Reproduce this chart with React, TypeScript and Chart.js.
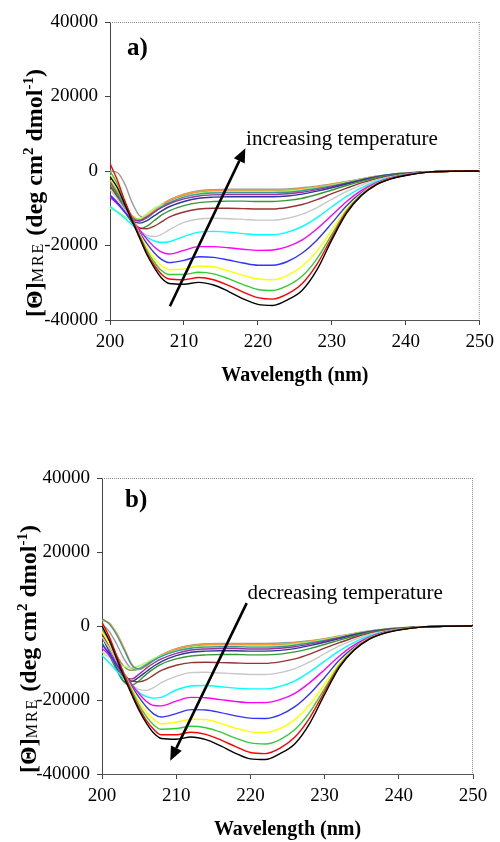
import React, { useEffect, useRef } from 'react';
import { Chart, registerables } from 'chart.js';

Chart.register(...registerables);

const FONT = '"Liberation Serif", "Times New Roman", serif';

// Wavelengths (nm) at which each curve is sampled
const WAVELENGTHS = [200, 201, 202, 203, 204, 205, 206, 207, 208, 210, 212, 214, 216, 218, 220, 222, 224, 226, 228, 230, 232, 234, 236, 238, 240, 243, 246, 250];
const X_TICKS = [200, 210, 220, 230, 240, 250];
const Y_TICKS = [-40000, -20000, 0, 20000, 40000];

const SERIES_COLORS = ['#000000', '#ff0000', '#33cc33', '#ffff00', '#3333ff', '#ff00ff', '#00ffff', '#c8c8c8', '#993333', '#339933', '#333399', '#993399', '#339999', '#99ff66', '#ff9933', '#999999', '#999966'];

// Panel a (heating)
const A_BLACK = [-1500, -4500, -9000, -13500, -18000, -22500, -26000, -28800, -30200, -30400, -29900, -30600, -32300, -34300, -35800, -36100, -34600, -32000, -26500, -18500, -11300, -6600, -3700, -2100, -1200, -300, -50, 0];
const A_RED = [2000, -2500, -8000, -12800, -17500, -22000, -25300, -27800, -29000, -29200, -28600, -29200, -30700, -32500, -34000, -34400, -33000, -30200, -25000, -17800, -11000, -6500, -3600, -2050, -1150, -300, -50, 0];
const A_GREEN = [0, -3500, -8300, -12800, -17200, -21300, -24500, -26800, -27800, -27800, -27200, -27600, -28900, -30500, -31800, -32100, -30800, -28200, -23500, -17000, -10600, -6300, -3500, -2000, -1100, -300, -50, 0];
const A_YELLOW = [-1000, -4500, -8800, -12800, -16800, -20500, -23500, -25500, -26500, -26300, -25500, -25700, -26800, -28000, -29000, -29200, -28000, -25500, -21500, -15800, -10100, -6100, -3400, -1950, -1100, -300, -50, 0];
const A_BLUE = [-6500, -8500, -11000, -13500, -16500, -19500, -22000, -23800, -24600, -24000, -23000, -23200, -23900, -24700, -25300, -25300, -24300, -22000, -18500, -14000, -9300, -5800, -3300, -1900, -1050, -300, -50, 0];
const A_MAGENTA = [-7000, -8800, -11000, -13300, -15800, -18300, -20400, -21800, -22300, -21300, -20300, -20300, -20600, -21000, -21300, -21200, -20300, -18500, -15500, -11900, -8200, -5200, -3100, -1800, -1000, -300, -50, 0];
const A_CYAN = [-9500, -11000, -12700, -14500, -16300, -17800, -18800, -19200, -19000, -17600, -16400, -16200, -16400, -16800, -17100, -17100, -16400, -14900, -12500, -9600, -6800, -4500, -2800, -1700, -950, -250, -50, 0];
const A_LIGHTGRAY = [-5000, -7500, -10500, -13500, -16000, -17300, -17600, -17000, -15800, -13800, -12900, -12700, -12800, -13000, -13200, -13200, -12700, -11600, -9800, -7600, -5500, -3800, -2400, -1500, -900, -250, -50, 0];
const A_BROWN = [-4000, -7000, -10500, -13500, -15300, -15500, -14800, -13600, -12400, -11000, -10200, -10000, -10000, -10100, -10200, -10200, -9800, -9000, -7700, -6100, -4600, -3200, -2100, -1300, -850, -250, -50, 0];
const A_DKGREEN = [-3000, -6500, -10500, -14000, -15500, -14800, -13300, -11800, -10700, -9300, -8500, -8200, -8100, -8100, -8200, -8200, -7900, -7300, -6300, -5100, -3900, -2800, -1800, -1150, -800, -250, -50, 0];
const A_NAVY = [-6500, -8500, -11000, -13300, -14000, -13300, -12000, -10700, -9600, -8200, -7300, -7000, -6900, -6900, -6900, -6900, -6700, -6200, -5400, -4500, -3500, -2500, -1600, -1000, -650, -250, -50, 0];
const A_PURPLE = [-7000, -8800, -11000, -13000, -13300, -12300, -11000, -9800, -8800, -7500, -6700, -6400, -6300, -6300, -6300, -6300, -6100, -5700, -5000, -4200, -3300, -2400, -1600, -1000, -650, -250, -50, 0];
const A_TEAL = [-3000, -6000, -9500, -12500, -13500, -12500, -11000, -9600, -8500, -7000, -6200, -5900, -5800, -5800, -5800, -5800, -5700, -5300, -4700, -4000, -3200, -2300, -1500, -950, -600, -250, -50, 0];
const A_LIGHTGREEN = [-10000, -11000, -12200, -13000, -12800, -11500, -10000, -9200, -8800, -7000, -6000, -5600, -5500, -5500, -5500, -5500, -5400, -5000, -4500, -3800, -3000, -2200, -1500, -950, -600, -250, -50, 0];
const A_ORANGE = [-2500, -5500, -9000, -12000, -13000, -12000, -10500, -9000, -7800, -6300, -5500, -5200, -5100, -5100, -5100, -5100, -5000, -4700, -4200, -3600, -2900, -2100, -1400, -900, -550, -250, -50, 0];
const A_GRAY = [0, -400, -3500, -8500, -12000, -12500, -11000, -9200, -7800, -6200, -5300, -5000, -4900, -4900, -4900, -4900, -4800, -4500, -4100, -3500, -2800, -2100, -1400, -900, -550, -250, -50, 0];
const A_OLIVE = [-4000, -6500, -9500, -12300, -13200, -12300, -10800, -9300, -8000, -6500, -5600, -5300, -5200, -5200, -5200, -5200, -5100, -4800, -4300, -3700, -3000, -2200, -1450, -900, -550, -250, -50, 0];

// Panel b (cooling)
const B_BLACK = [0, -4000, -9000, -14000, -18500, -22800, -26300, -29000, -30400, -30600, -30000, -30700, -32400, -34400, -35900, -36100, -34500, -31800, -26300, -18500, -11200, -6500, -3600, -2000, -1100, -300, -50, 0];
const B_RED = [1000, -3000, -8200, -13200, -18000, -22200, -25600, -28000, -29400, -29400, -28700, -29300, -30800, -32600, -34200, -34500, -33000, -30000, -24800, -17700, -10900, -6400, -3500, -1950, -1050, -300, -50, 0];
const B_GREEN = [-500, -4000, -8500, -13000, -17300, -21300, -24500, -26800, -27900, -27700, -27100, -27500, -28700, -30300, -31600, -31900, -30700, -28000, -23300, -16900, -10500, -6200, -3400, -1900, -1000, -300, -50, 0];
const B_YELLOW = [-1500, -5000, -9000, -13000, -16800, -20300, -23300, -25300, -26400, -26000, -25200, -25300, -26300, -27600, -28600, -28800, -27700, -25300, -21300, -15700, -10000, -6000, -3300, -1850, -1000, -300, -50, 0];
const B_BLUE = [-5000, -7500, -10500, -13300, -16300, -19300, -21900, -23800, -24600, -23700, -22600, -22700, -23400, -24300, -24900, -25000, -24000, -21800, -18300, -13900, -9200, -5700, -3200, -1800, -1000, -300, -50, 0];
const B_MAGENTA = [-6000, -8000, -10500, -13000, -15700, -18300, -20400, -21500, -21600, -20300, -19300, -19400, -19900, -20400, -20700, -20700, -19900, -18200, -15300, -11800, -8100, -5100, -3000, -1700, -950, -300, -50, 0];
const B_CYAN = [-8000, -10000, -12200, -14300, -16300, -18000, -19100, -19500, -19300, -17300, -16200, -16100, -16400, -16800, -17000, -17000, -16300, -14800, -12400, -9500, -6700, -4400, -2700, -1600, -900, -250, -50, 0];
const B_LIGHTGRAY = [-3000, -6000, -9500, -13000, -15800, -17200, -17400, -16600, -15300, -13600, -12600, -12500, -12700, -12900, -13100, -13100, -12600, -11500, -9700, -7500, -5400, -3700, -2300, -1450, -850, -250, -50, 0];
const B_BROWN = [-2000, -5500, -9500, -13000, -14900, -15100, -14500, -13200, -12000, -10600, -9900, -9800, -9900, -10000, -10100, -10100, -9700, -8900, -7600, -6000, -4500, -3100, -2000, -1250, -800, -250, -50, 0];
const B_DKGREEN = [-4500, -8000, -12000, -15200, -16000, -14800, -13000, -11500, -10300, -8900, -8100, -7800, -7700, -7700, -7800, -7800, -7600, -7000, -6100, -5000, -3800, -2700, -1750, -1100, -750, -250, -50, 0];
const B_NAVY = [-3000, -7000, -11500, -15000, -15000, -13800, -12300, -10800, -9600, -8000, -7100, -6800, -6700, -6700, -6800, -6800, -6600, -6100, -5300, -4400, -3400, -2400, -1600, -1000, -650, -250, -50, 0];
const B_PURPLE = [-2000, -6000, -10500, -14000, -14300, -13000, -11400, -10000, -8900, -7400, -6500, -6200, -6100, -6100, -6200, -6200, -6000, -5600, -4900, -4100, -3200, -2300, -1550, -1000, -650, -250, -50, 0];
const B_TEAL = [2000, 500, -2500, -6500, -10500, -11600, -10600, -9300, -8200, -6800, -6000, -5700, -5600, -5600, -5700, -5700, -5600, -5200, -4600, -3900, -3100, -2200, -1500, -950, -600, -250, -50, 0];
const B_LIGHTGREEN = [-7000, -8500, -10000, -11000, -11300, -10800, -9800, -8800, -8000, -6700, -5800, -5500, -5400, -5400, -5400, -5400, -5300, -4900, -4400, -3700, -2900, -2100, -1400, -900, -550, -250, -50, 0];
const B_ORANGE = [1500, 800, -2000, -6000, -10300, -11700, -10800, -9200, -7900, -6200, -5300, -5000, -4900, -4900, -5000, -5000, -4900, -4600, -4100, -3500, -2800, -2000, -1400, -900, -550, -250, -50, 0];
const B_GRAY = [500, -1500, -5000, -9000, -11500, -11800, -10600, -9100, -7800, -6100, -5200, -4800, -4700, -4700, -4700, -4700, -4600, -4400, -4000, -3400, -2700, -2000, -1350, -850, -500, -250, -50, 0];
const B_OLIVE = [-1000, -4000, -8000, -11000, -12000, -11500, -10300, -9000, -7900, -6400, -5500, -5100, -5000, -5000, -5100, -5100, -5000, -4700, -4200, -3600, -2900, -2100, -1450, -900, -550, -250, -50, 0];

const PANEL_A_SERIES = [A_BLACK, A_RED, A_GREEN, A_YELLOW, A_BLUE, A_MAGENTA, A_CYAN, A_LIGHTGRAY, A_BROWN, A_DKGREEN, A_NAVY, A_PURPLE, A_TEAL, A_LIGHTGREEN, A_ORANGE, A_GRAY, A_OLIVE];
const PANEL_B_SERIES = [B_BLACK, B_RED, B_GREEN, B_YELLOW, B_BLUE, B_MAGENTA, B_CYAN, B_LIGHTGRAY, B_BROWN, B_DKGREEN, B_NAVY, B_PURPLE, B_TEAL, B_LIGHTGREEN, B_ORANGE, B_GRAY, B_OLIVE];

const X_TITLE = 'Wavelength (nm)';

type PanelCfg = {
  series: number[][];
  tag: string;
  tagAt: [number, number];
  note: string;
  noteAt: [number, number];
  arrowFrom: [number, number];
  arrowTo: [number, number];
  pad: { top: number; right: number };
  yWidth: number;
  xHeight: number;
  yTitleCenter: [number, number];
  xTitleY: number;
};

const PANEL_A: PanelCfg = {
  series: PANEL_A_SERIES,
  tag: 'a)',
  tagAt: [202.3, 33000],
  note: 'increasing temperature',
  noteAt: [218.4, 7000],
  arrowFrom: [208.1, -36300],
  arrowTo: [218.3, 6100],
  pad: { top: 22, right: 17 },
  yWidth: 110,
  xHeight: 101,
  yTitleCenter: [34, 193],
  xTitleY: 376,
};

const PANEL_B: PanelCfg = {
  series: PANEL_B_SERIES,
  tag: 'b)',
  tagAt: [203.1, 34000],
  note: 'decreasing temperature',
  noteAt: [219.6, 7300],
  arrowFrom: [219.5, 6200],
  arrowTo: [209.2, -36400],
  pad: { top: 57, right: 27 },
  yWidth: 102,
  xHeight: 68,
  yTitleCenter: [28, 228],
  xTitleY: 409,
};

function drawYTitle(ctx: CanvasRenderingContext2D, cx: number, cy: number) {
  const parts = [
    { t: '[\u0398]', f: `bold 24px ${FONT}`, dy: 0, sp: 0 },
    { t: 'MRE', f: `16px ${FONT}`, dy: 1, sp: 2 },
    { t: ' (deg cm', f: `bold 24px ${FONT}`, dy: 0, sp: 0 },
    { t: '2', f: `bold 15px ${FONT}`, dy: -9, sp: 0 },
    { t: ' dmol', f: `bold 24px ${FONT}`, dy: 0, sp: 0 },
    { t: '-1', f: `bold 15px ${FONT}`, dy: -9, sp: 0 },
    { t: ')', f: `bold 24px ${FONT}`, dy: 0, sp: 0 },
  ];
  ctx.save();
  const widthOf = (p: { t: string; f: string; sp: number }) => {
    ctx.font = p.f;
    if (!p.sp) return ctx.measureText(p.t).width;
    let w = 0;
    for (const ch of p.t) w += ctx.measureText(ch).width + p.sp;
    return w;
  };
  const widths = parts.map(widthOf);
  const total = widths.reduce((a, b) => a + b, 0);
  ctx.translate(cx, cy);
  ctx.rotate(-Math.PI / 2);
  ctx.fillStyle = '#000';
  ctx.textBaseline = 'alphabetic';
  ctx.textAlign = 'left';
  let x = -total / 2;
  parts.forEach((p, i) => {
    ctx.font = p.f;
    if (p.sp) {
      let cx2 = x;
      for (const ch of p.t) {
        ctx.fillText(ch, cx2, 8 + p.dy);
        cx2 += ctx.measureText(ch).width + p.sp;
      }
    } else {
      ctx.fillText(p.t, x, 8 + p.dy);
    }
    x += widths[i];
  });
  ctx.restore();
}

const chromePlugin = {
  id: 'chrome',
  afterDatasetsDraw(chart: any, _args: any, opts: any) {
    const cfg: PanelCfg = opts.cfg;
    if (!cfg) return;
    const { ctx, chartArea } = chart;
    const xs = chart.scales.x;
    const ys = chart.scales.y;
    ctx.save();
    // dotted top/right frame
    ctx.strokeStyle = '#8a8a8a';
    ctx.lineWidth = 1;
    ctx.setLineDash([1, 1]);
    ctx.beginPath();
    ctx.moveTo(chartArea.left, chartArea.top + 0.5);
    ctx.lineTo(chartArea.right, chartArea.top + 0.5);
    ctx.moveTo(chartArea.right - 0.5, chartArea.top);
    ctx.lineTo(chartArea.right - 0.5, chartArea.bottom);
    ctx.stroke();
    ctx.setLineDash([]);

    // arrow
    const x0 = xs.getPixelForValue(cfg.arrowFrom[0]);
    const y0 = ys.getPixelForValue(cfg.arrowFrom[1]);
    const x1 = xs.getPixelForValue(cfg.arrowTo[0]);
    const y1 = ys.getPixelForValue(cfg.arrowTo[1]);
    const ang = Math.atan2(y1 - y0, x1 - x0);
    const headLen = 14;
    const headW = 6;
    const bx = x1 - headLen * Math.cos(ang);
    const by = y1 - headLen * Math.sin(ang);
    ctx.strokeStyle = '#000';
    ctx.lineWidth = 2.6;
    ctx.beginPath();
    ctx.moveTo(x0, y0);
    ctx.lineTo(bx, by);
    ctx.stroke();
    ctx.fillStyle = '#000';
    ctx.beginPath();
    ctx.moveTo(x1, y1);
    ctx.lineTo(bx + headW * Math.sin(ang), by - headW * Math.cos(ang));
    ctx.lineTo(bx - headW * Math.sin(ang), by + headW * Math.cos(ang));
    ctx.closePath();
    ctx.fill();

    // annotation text
    ctx.font = `21px ${FONT}`;
    ctx.textAlign = 'left';
    ctx.textBaseline = 'alphabetic';
    ctx.fillText(cfg.note, xs.getPixelForValue(cfg.noteAt[0]), ys.getPixelForValue(cfg.noteAt[1]));

    // panel tag
    ctx.font = `bold 25px ${FONT}`;
    ctx.textBaseline = 'middle';
    ctx.fillText(cfg.tag, xs.getPixelForValue(cfg.tagAt[0]), ys.getPixelForValue(cfg.tagAt[1]));

    // x title
    ctx.font = `bold 20px ${FONT}`;
    ctx.textAlign = 'center';
    ctx.textBaseline = 'middle';
    ctx.fillText(X_TITLE, (chartArea.left + chartArea.right) / 2, cfg.xTitleY);
    ctx.restore();

    drawYTitle(ctx, cfg.yTitleCenter[0], cfg.yTitleCenter[1]);
  },
};

function Panel({ cfg, top }: { cfg: PanelCfg; top: number }) {
  const ref = useRef<HTMLCanvasElement>(null);
  useEffect(() => {
    if (!ref.current) return;
    const datasets = cfg.series.map((vals, i) => ({
      label: `T${i + 1}`,
      data: WAVELENGTHS.map((w, j) => ({ x: w, y: vals[j] })),
      borderColor: SERIES_COLORS[i],
      backgroundColor: SERIES_COLORS[i],
      borderWidth: 1.4,
      pointRadius: 0,
      fill: false,
      cubicInterpolationMode: 'monotone' as const,
    }));
    const tickFont = { family: FONT, size: 19 };
    const chart = new Chart(ref.current, {
      type: 'line',
      data: { datasets },
      plugins: [chromePlugin],
      options: {
        animation: false,
        responsive: false,
        events: [],
        layout: { padding: { top: cfg.pad.top, right: cfg.pad.right, left: 0, bottom: 0 } },
        plugins: {
          legend: { display: false },
          tooltip: { enabled: false },
          // @ts-ignore
          chrome: { cfg },
        },
        scales: {
          x: {
            type: 'linear',
            min: X_TICKS[0],
            max: X_TICKS[X_TICKS.length - 1],
            afterBuildTicks: (s: any) => {
              s.ticks = X_TICKS.map((v) => ({ value: v }));
            },
            afterFit: (s: any) => {
              s.height = cfg.xHeight;
            },
            ticks: {
              color: '#000',
              font: tickFont,
              padding: 6,
              maxRotation: 0,
              autoSkip: false,
              callback: (v: any) => String(v),
            },
            grid: { display: true, drawOnChartArea: false, drawTicks: true, tickLength: 5, color: '#444' },
            border: { display: true, color: '#555', width: 1 },
          },
          y: {
            type: 'linear',
            min: Y_TICKS[0],
            max: Y_TICKS[Y_TICKS.length - 1],
            afterBuildTicks: (s: any) => {
              s.ticks = Y_TICKS.map((v) => ({ value: v }));
            },
            afterFit: (s: any) => {
              s.width = cfg.yWidth;
            },
            ticks: {
              color: '#000',
              font: tickFont,
              padding: 7,
              autoSkip: false,
              callback: (v: any) => String(v),
            },
            grid: { display: true, drawOnChartArea: false, drawTicks: true, tickLength: 5, color: '#444' },
            border: { display: true, color: '#444', width: 1 },
          },
        },
      } as any,
    });
    return () => chart.destroy();
  }, [cfg]);
  return (
    <div style={{ position: 'absolute', left: 0, top, width: 500, height: 421 }}>
      <canvas ref={ref} width={500} height={421} style={{ width: 500, height: 421, display: 'block' }} />
    </div>
  );
}

export default function App() {
  return (
    <div style={{ position: 'absolute', left: 0, top: 0, width: 500, height: 842, background: '#fff' }}>
      <Panel cfg={PANEL_A} top={0} />
      <Panel cfg={PANEL_B} top={421} />
    </div>
  );
}
